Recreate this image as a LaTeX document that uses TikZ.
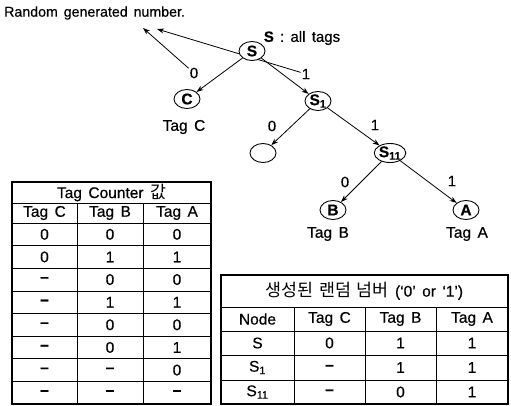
\documentclass[tikz,border=0pt]{standalone}
\usepackage{fontspec}
\setmainfont{Liberation Sans}[WordSpace=1.5,FakeBold=0.5,BoldFeatures={FakeBold=0.5}]
\newfontfamily\kr{Noto Sans CJK KR}[Scale=1.12,WordSpace=1.4]
\usetikzlibrary{shapes.geometric,arrows.meta,backgrounds}
\newcommand\dsh{\textbf{–}}
\begin{document}
\begin{tikzpicture}[x=1pt,y=-1pt,
  tnode/.style={ellipse,draw,line width=0.9pt,fill=white,minimum width=26pt,minimum height=19pt,inner sep=0pt,font=\fontsize{15.5}{15}\selectfont\bfseries},
  elab/.style={inner sep=1pt,font=\fontsize{15}{15}\selectfont},
  tagl/.style={inner sep=1pt,font=\fontsize{15.5}{15}\selectfont},
  edge/.style={-{Stealth[length=7pt,width=5pt]},line width=0.8pt},
  cell/.style={inner sep=0pt,font=\fontsize{15.5}{15}\selectfont},
  outer/.style={line width=1.4pt},
  inner/.style={line width=0.7pt}]
\useasboundingbox (0,0) rectangle (511,405);

% tree
\node[anchor=west,inner sep=0pt,font=\fontsize{14.2}{15}\selectfont] (rnd) at (4,13) {Random generated number.};
\node[inner sep=0pt,font=\fontsize{15}{15}\selectfont] (allt) at (302,38) {\textbf{S} : all tags};
\coordinate (r1) at (143,28);
\coordinate (r2) at (157,29);

\node[tnode] (S) at (252,51) {S};
\node[tnode] (C) at (187,99) {C};
\node[tnode] (S1) at (318,101) {S\textsubscript{1}};
\node[tnode] (E) at (263,153) {};
\node[tnode] (S11) at (390,153) {S\textsubscript{11}};
\node[tnode] (B) at (333,210) {B};
\node[tnode] (A) at (466,210) {A};

\node[tagl] (tC) at (184,127) {Tag C};
\node[tagl] (tB) at (328,234) {Tag B};
\node[tagl] (tA) at (467,234) {Tag A};

\node[elab] (l0a) at (194,73) {0};
\node[elab] (l1a) at (306,74) {1};
\node[elab] (l0b) at (272,126) {0};
\node[elab] (l1b) at (375,125) {1};
\node[elab] (l0c) at (345,182) {0};
\node[elab] (l1c) at (452,181) {1};

\draw[edge] (S) -- (C);
\draw[edge] (S) -- (S1);
\draw[edge] (S1) -- (E);
\draw[edge] (S1) -- (S11);
\draw[edge] (S11) -- (B);
\draw[edge] (S11) -- (A);
\begin{scope}[on background layer]
\draw[edge] (l0a) -- (r1);
\draw[edge] (l1a) -- (r2);
\end{scope}

% table 1
\draw[outer] (12,182) rectangle (211,404);
\draw[inner] (12,203) -- (211,203);
\draw[inner] (12,223) -- (211,223);
\foreach \k in {1,...,7} \draw[inner] (12,{223+\k*22.625}) -- (211,{223+\k*22.625});
\draw[inner] (77,203) -- (77,404);
\draw[inner] (143,203) -- (143,404);
\node[cell] (t1title) at (111.5,192.5) {Tag Counter {\kr 값}};
\node[cell] (t1hC) at (44.5,213) {Tag C};
\node[cell] (t1hB) at (110,213) {Tag B};
\node[cell] (t1hA) at (177,213) {Tag A};
\foreach \a/\b/\c [count=\i] in {0/0/0,0/1/1,\dsh/0/0,\dsh/1/1,\dsh/0/0,\dsh/0/1,\dsh/\dsh/0,\dsh/\dsh/\dsh}{
  \node[cell] (t1c\i) at (44.5,{223+(\i-0.5)*22.625}) {\a};
  \node[cell] (t1b\i) at (110,{223+(\i-0.5)*22.625}) {\b};
  \node[cell] (t1a\i) at (177,{223+(\i-0.5)*22.625}) {\c};
}

% table 2
\draw[outer] (221,275) rectangle (508,404);
\draw[inner] (221,307) -- (508,307);
\foreach \yy in {331,355,380} \draw[inner] (221,\yy) -- (508,\yy);
\foreach \xx in {294,365,436} \draw[inner] (\xx,307) -- (\xx,404);
\node[cell] (t2title) at (364.5,291) {{\kr 생성된 랜덤 넘버} (‘0’ or ‘1’)};
\foreach \n/\a/\b/\c [count=\i] in {Node/Tag C/Tag B/Tag A,S/0/1/1,S\textsubscript{1}/\dsh/1/1,S\textsubscript{11}/\dsh/0/1}{
  \pgfmathsetmacro\yc{\i==1 ? 319 : (\i==2 ? 343 : (\i==3 ? 367.5 : 392))}
  \node[cell] (t2n\i) at (257.5,\yc) {\n};
  \node[cell] (t2c\i) at (329.5,\yc) {\a};
  \node[cell] (t2b\i) at (400.5,\yc) {\b};
  \node[cell] (t2a\i) at (472,\yc) {\c};
}
\end{tikzpicture}
\end{document}
